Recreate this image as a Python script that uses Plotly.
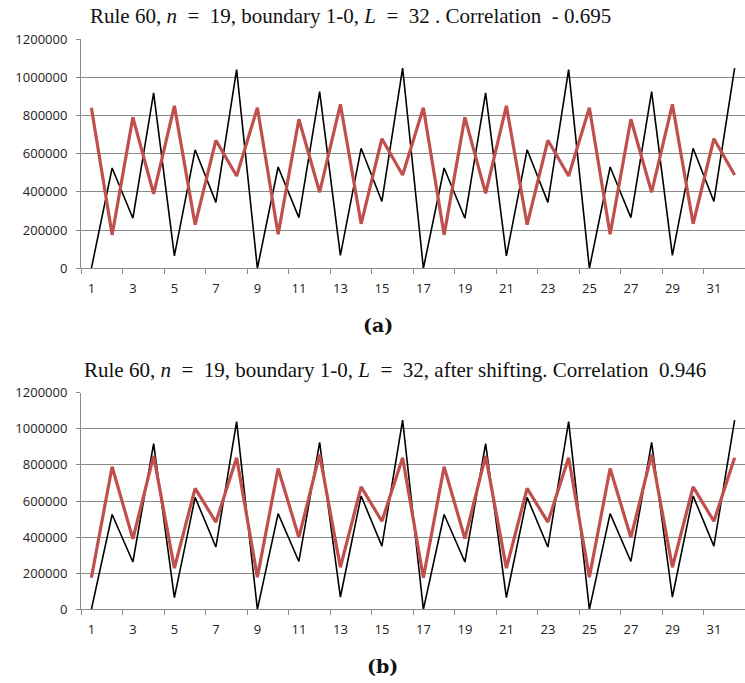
import plotly.graph_objects as go

x_vals = list(range(1, 33))
black_series = [0, 525000, 262000, 918000, 65000, 620000, 345000, 1040000,
                0, 530000, 265000, 925000, 68000, 628000, 350000, 1048000,
                0, 525000, 262000, 918000, 65000, 620000, 345000, 1040000,
                0, 530000, 265000, 925000, 68000, 628000, 350000, 1048000]
red_series_a = [840000, 175000, 790000, 390000, 850000, 228000, 670000, 483000,
                840000, 178000, 780000, 398000, 858000, 233000, 678000, 488000,
                840000, 175000, 790000, 392000, 850000, 228000, 670000, 483000,
                840000, 178000, 780000, 398000, 858000, 233000, 678000, 488000]
red_series_b = [175000, 790000, 390000, 850000, 228000, 670000, 483000, 840000,
                178000, 780000, 398000, 858000, 233000, 678000, 488000, 840000,
                175000, 790000, 392000, 850000, 228000, 670000, 483000, 840000,
                178000, 780000, 398000, 858000, 233000, 678000, 488000, 840000]
x_tick_vals = list(range(1, 32, 2))
y_tick_vals = [0, 200000, 400000, 600000, 800000, 1000000, 1200000]

title_a = "Rule 60, <i>n</i>&nbsp;&nbsp;=&nbsp;&nbsp;19, boundary 1-0, <i>L</i>&nbsp;&nbsp;=&nbsp;&nbsp;32 . Correlation&nbsp;&nbsp;- 0.695"
title_b = "Rule 60, <i>n</i>&nbsp;&nbsp;=&nbsp;&nbsp;19, boundary 1-0, <i>L</i>&nbsp;&nbsp;=&nbsp;&nbsp;32, after shifting. Correlation&nbsp;&nbsp;0.946"

W, H = 745, 683
BLACK = "#000000"
RED = "#C0504D"
GRID = "#8A8A8A"
TICKFONT = dict(family="Open Sans", size=13, color="#222222")

fig = go.Figure()
fig.add_trace(go.Scatter(x=x_vals, y=black_series, mode="lines",
                         line=dict(color=BLACK, width=1.6), xaxis="x", yaxis="y", showlegend=False))
fig.add_trace(go.Scatter(x=x_vals, y=red_series_a, mode="lines",
                         line=dict(color=RED, width=3.2), xaxis="x", yaxis="y", showlegend=False))
fig.add_trace(go.Scatter(x=x_vals, y=black_series, mode="lines",
                         line=dict(color=BLACK, width=1.6), xaxis="x2", yaxis="y2", showlegend=False))
fig.add_trace(go.Scatter(x=x_vals, y=red_series_b, mode="lines",
                         line=dict(color=RED, width=3.2), xaxis="x2", yaxis="y2", showlegend=False))

x_left = 81 / W
dom_a = [1 - 268.3 / H, 1 - 39 / H]
dom_b = [1 - 609.3 / H, 1 - 392.7 / H]

def xaxis_cfg(anchor):
    return dict(domain=[x_left, 1], anchor=anchor, range=[0.5, 32.5],
                tickmode="array", tickvals=x_tick_vals, ticks="", showgrid=False,
                zeroline=False, showline=True, linecolor=GRID, linewidth=1,
                tickfont=TICKFONT, automargin=False, ticklabelstandoff=8,
                minor=dict(tickmode="linear", tick0=0.5, dtick=2, ticks="outside",
                           ticklen=5, tickcolor=GRID, showgrid=False))

def yaxis_cfg(anchor, dom):
    return dict(domain=dom, anchor=anchor, range=[0, 1200000],
                tickmode="array", tickvals=y_tick_vals, ticks="outside", ticklen=4,
                tickcolor=GRID, showgrid=True, gridcolor=GRID, gridwidth=1.2,
                zeroline=False, showline=True, linecolor=GRID, linewidth=1,
                tickfont=TICKFONT, automargin=False, tickformat="d",
                ticklabelstandoff=6)

fig.update_layout(
    width=W, height=H, margin=dict(l=0, r=0, t=0, b=0),
    paper_bgcolor="white", plot_bgcolor="white",
    xaxis=xaxis_cfg("y"), yaxis=yaxis_cfg("x", dom_a),
    xaxis2=xaxis_cfg("y2"), yaxis2=yaxis_cfg("x2", dom_b),
    annotations=[
        dict(text=title_a,
             xref="paper", yref="paper", x=88 / W, y=1 - 16 / H, xanchor="left", yanchor="middle",
             showarrow=False, font=dict(family="Liberation Serif", size=21, color="#111111")),
        dict(text=title_b,
             xref="paper", yref="paper", x=82 / W, y=1 - 370 / H, xanchor="left", yanchor="middle",
             showarrow=False, font=dict(family="Liberation Serif", size=21, color="#111111")),
        dict(text="<b>(a)</b>", xref="paper", yref="paper", x=378 / W, y=1 - 325 / H,
             xanchor="center", yanchor="middle", showarrow=False,
             font=dict(family="DejaVu Serif", size=19, color="#111111")),
        dict(text="<b>(b)</b>", xref="paper", yref="paper", x=382 / W, y=1 - 666 / H,
             xanchor="center", yanchor="middle", showarrow=False,
             font=dict(family="DejaVu Serif", size=19, color="#111111")),
    ],
)

fig.write_html("out.html", config={"displayModeBar": False},
               post_script="document.body.style.margin='0';document.body.style.overflow='hidden';")
